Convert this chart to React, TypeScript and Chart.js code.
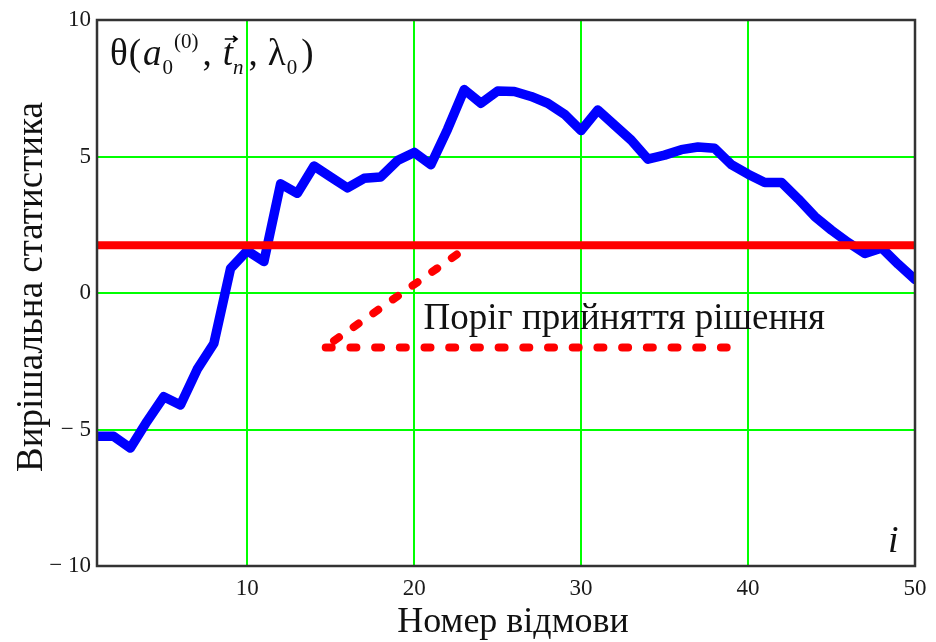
import React, { useEffect, useRef } from "react";
import { Chart, registerables } from "chart.js";

Chart.register(...registerables);

// Failure numbers and the decision statistic computed after each failure
const failureIndex = [
  1, 2, 3, 4, 5, 6, 7, 8, 9, 10, 11, 12, 13, 14, 15, 16, 17, 18, 19, 20, 21, 22, 23, 24, 25,
  26, 27, 28, 29, 30, 31, 32, 33, 34, 35, 36, 37, 38, 39, 40, 41, 42, 43, 44, 45, 46, 47, 48, 49, 50,
];
const decisionStatistic = [
  -5.25, -5.25, -5.68, -4.7, -3.8, -4.1, -2.8, -1.85, 0.9, 1.55, 1.15, 4.0, 3.65, 4.65, 4.25,
  3.85, 4.2, 4.25, 4.85, 5.15, 4.7, 6.0, 7.45, 6.95, 7.4, 7.38, 7.2, 6.95, 6.55, 5.95, 6.7,
  6.15, 5.6, 4.9, 5.05, 5.25, 5.35, 5.3, 4.7, 4.35, 4.05, 4.05, 3.45, 2.8, 2.3, 1.85, 1.45,
  1.65, 1.05, 0.5,
];

// Decision threshold
const thresholdLevel = 1.75;
const thresholdSpanX = [1, 50];

// Callout pointing at the threshold line
const calloutDiagonalX = [15.2, 23.0];
const calloutDiagonalY = [-1.75, 1.6];
const calloutBaseX = [14.7, 38.72];
const calloutBaseY = [-2, -2];
const calloutAnchor = { x: 20.5, y: -1.45 };
const calloutText = "Поріг прийняття рішення";

// Axes
const xRange = [1, 50];
const yRange = [-10, 10];
const xTickValues = [10, 20, 30, 40, 50];
const yTickValues = [-10, -5, 0, 5, 10];
const xTitle = "Номер відмови";
const yTitle = "Вирішальна статистика";
const xVariable = "i";

const SERIF = '"Liberation Serif", "Times New Roman", serif';

function zipPoints(xs: number[], ys: number[]) {
  return xs.map((x, k) => ({ x, y: ys[k] }));
}

function formatTick(v: number) {
  return v < 0 ? "\u2212 " + Math.abs(v) : String(v);
}

// θ(a₀⁽⁰⁾, t⃗ₙ, λ₀) written in the top-left corner of the plot
function drawFormula(ctx: CanvasRenderingContext2D, x0: number, base: number) {
  const big = 37;
  const small = 21;
  let cx = x0;
  const put = (txt: string, size: number, italic: boolean, dy = 0, extra = 0) => {
    ctx.font = `${italic ? "italic " : ""}${size}px ${SERIF}`;
    ctx.fillText(txt, cx, base + dy);
    const start = cx;
    const w = ctx.measureText(txt).width;
    cx += w + extra;
    return { start, w };
  };
  put("θ", big, false, 0, 1);
  put("(", big, false, 0, 2);
  put("a", big, true, 0, 1);
  put("0", small, false, 9, 1);
  put("(0)", small, false, -17, 4);
  put(",", big, false, 0, 11);
  const t = put("t", big, true, 0, 0);
  put("n", small, true, 9, 5);
  put(",", big, false, 0, 10);
  put("λ", big, false, 0, 1);
  put("0", small, false, 9, 4);
  put(")", big, false, 0, 0);

  // vector arrow over t
  const ay = base - 26;
  const ax0 = t.start + 2;
  const ax1 = t.start + t.w + 4;
  ctx.save();
  ctx.strokeStyle = "#000";
  ctx.lineWidth = 1.6;
  ctx.beginPath();
  ctx.moveTo(ax0, ay);
  ctx.lineTo(ax1, ay);
  ctx.moveTo(ax1 - 4, ay - 3);
  ctx.lineTo(ax1, ay);
  ctx.lineTo(ax1 - 4, ay + 3);
  ctx.stroke();
  ctx.restore();
}

const decorations = {
  id: "decorations",
  afterDatasetsDraw(chart: any) {
    const { ctx, chartArea: a, scales } = chart;
    ctx.save();
    // frame
    ctx.strokeStyle = "#333";
    ctx.lineWidth = 2.5;
    ctx.strokeRect(a.left, a.top, a.right - a.left, a.bottom - a.top);

    ctx.fillStyle = "#111";
    ctx.textAlign = "left";
    ctx.textBaseline = "alphabetic";

    // callout text
    ctx.font = `37px ${SERIF}`;
    ctx.fillText(calloutText, scales.x.getPixelForValue(calloutAnchor.x) + 1, scales.y.getPixelForValue(calloutAnchor.y) - 4);

    // formula
    drawFormula(ctx, a.left + 13, a.top + 45);

    // variable name near the x axis
    ctx.font = `italic 38px ${SERIF}`;
    ctx.fillText(xVariable, a.right - 27, a.bottom - 14);

    // axis titles
    ctx.font = `36px ${SERIF}`;
    ctx.textAlign = "center";
    ctx.fillText(xTitle, (a.left + a.right) / 2 + 7, 632);
    ctx.font = `37px ${SERIF}`;
    ctx.translate(42, (a.top + a.bottom) / 2 - 6);
    ctx.rotate(-Math.PI / 2);
    ctx.fillText(yTitle, 0, 0);
    ctx.restore();
  },
};

export default function App() {
  const canvasRef = useRef<HTMLCanvasElement | null>(null);

  useEffect(() => {
    const canvas = canvasRef.current;
    if (!canvas) return;
    const chart = new Chart(canvas, {
      type: "line",
      data: {
        datasets: [
          {
            label: "threshold",
            data: zipPoints(thresholdSpanX, [thresholdLevel, thresholdLevel]),
            borderColor: "#ff0000",
            borderWidth: 8,
            pointRadius: 0,
            clip: 0,
            order: 1,
          },
          {
            label: "callout-diagonal",
            data: zipPoints(calloutDiagonalX, calloutDiagonalY),
            borderColor: "#ff0000",
            borderWidth: 8,
            borderDash: [6, 18],
            borderCapStyle: "round",
            pointRadius: 0,
            order: 2,
          },
          {
            label: "callout-base",
            data: zipPoints(calloutBaseX, calloutBaseY),
            borderColor: "#ff0000",
            borderWidth: 8,
            borderDash: [6, 18.7],
            borderCapStyle: "round",
            pointRadius: 0,
            order: 2,
          },
          {
            label: "statistic",
            data: zipPoints(failureIndex, decisionStatistic),
            borderColor: "#0000ff",
            borderWidth: 9.5,
            borderJoinStyle: "round",
            borderCapStyle: "round",
            pointRadius: 0,
            tension: 0,
            clip: 0,
            order: 3,
          },
        ],
      },
      options: {
        animation: false,
        responsive: false,
        events: [],
        layout: { padding: { top: 20, right: 21, left: 0, bottom: 0 } },
        plugins: { legend: { display: false }, tooltip: { enabled: false } },
        scales: {
          x: {
            type: "linear",
            min: xRange[0],
            max: xRange[1],
            afterBuildTicks: (axis: any) => {
              axis.ticks = xTickValues.map((value) => ({ value }));
            },
            afterFit: (s: any) => {
              s.height = 76;
            },
            grid: { color: "#00ff00", lineWidth: 2, drawTicks: false },
            border: { display: false },
            ticks: {
              padding: 9,
              color: "#1a1a1a",
              font: { family: SERIF, size: 23 },
              maxRotation: 0,
              callback: (v: any) => formatTick(Number(v)),
            },
          },
          y: {
            type: "linear",
            min: yRange[0],
            max: yRange[1],
            afterBuildTicks: (axis: any) => {
              axis.ticks = yTickValues.map((value) => ({ value }));
            },
            afterFit: (s: any) => {
              s.width = 97;
            },
            grid: { color: "#00ff00", lineWidth: 2, drawTicks: false },
            border: { display: false },
            ticks: {
              padding: 6,
              color: "#1a1a1a",
              font: { family: SERIF, size: 23 },
              callback: (v: any) => formatTick(Number(v)),
            },
          },
        },
      },
      plugins: [decorations],
    });
    return () => chart.destroy();
  }, []);

  return (
    <div style={{ position: "fixed", left: 0, top: 0, width: 936, height: 642, background: "#fff" }}>
      <canvas ref={canvasRef} width={936} height={642} style={{ display: "block" }} />
    </div>
  );
}
